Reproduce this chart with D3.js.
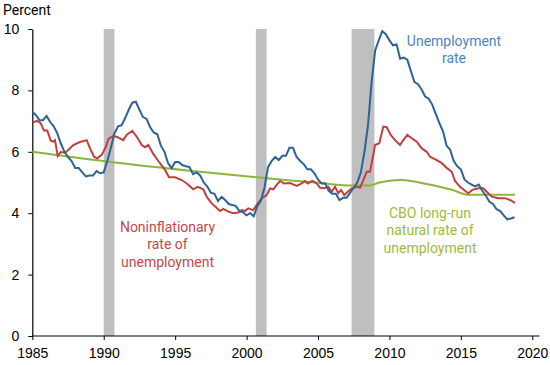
<!DOCTYPE html>
<html>
<head>
<meta charset="utf-8">
<script src="https://cdn.jsdelivr.net/npm/d3@7"></script>
<style>
  body { margin: 0; background: #fff; }
  svg { font-family: Roboto, "Noto Sans", sans-serif; }
  .axis text { font-size: 14px; fill: #000; }
  .axis path, .axis line { stroke: #000; }
</style>
</head>
<body>
<div id="chart"></div>
<script>
// quarterly unemployment rate, first point at 1985.0, step 0.25 year
var unempStart = 1985;
var unempValues = [
  7.30, 7.20, 7.03,
  7.03, 7.17, 6.97, 6.83,
  6.60, 6.27, 6.00, 5.83,
  5.70, 5.47, 5.47, 5.33,
  5.20, 5.23, 5.23, 5.37,
  5.30, 5.33, 5.70, 6.13,
  6.60, 6.83, 6.87, 7.10,
  7.37, 7.60, 7.63, 7.37,
  7.13, 7.07, 6.80, 6.63,
  6.57, 6.20, 6.00, 5.63,
  5.47, 5.67, 5.67, 5.57,
  5.53, 5.50, 5.27, 5.33,
  5.23, 5.00, 4.87, 4.67,
  4.63, 4.40, 4.53, 4.43,
  4.30, 4.27, 4.23, 4.07,
  4.03, 3.93, 4.00, 3.90,
  4.23, 4.40, 4.83, 5.50,
  5.70, 5.83, 5.73, 5.87,
  5.87, 6.13, 6.13, 5.83,
  5.70, 5.60, 5.43, 5.43,
  5.30, 5.10, 4.97, 4.97,
  4.73, 4.63, 4.63, 4.43,
  4.50, 4.50, 4.67, 4.83,
  5.00, 5.33, 6.00, 6.87,
  8.27, 9.30, 9.63, 9.93,
  9.83, 9.63, 9.47, 9.50,
  9.03, 9.07, 9.00, 8.63,
  8.27, 8.20, 8.03, 7.80,
  7.73, 7.53, 7.23, 6.93,
  6.67, 6.20, 6.07, 5.70,
  5.53, 5.43, 5.10, 5.00,
  4.93, 4.87, 4.93, 4.73,
  4.57, 4.37, 4.30, 4.13,
  4.07, 3.93, 3.80, 3.83,
  3.87
];

// noninflationary rate of unemployment
var nairuYears = [
  1985.03, 1985.31, 1985.59, 1985.82, 1986.05, 1986.29, 1986.47, 1986.59, 1986.78, 1986.99,
  1987.29, 1987.52, 1987.87, 1988.29, 1988.81, 1989.04, 1989.32, 1989.55, 1989.86, 1990.16,
  1990.32, 1990.63, 1990.91, 1991.37, 1991.61, 1992.0, 1992.31, 1992.66, 1992.89, 1993.12,
  1993.47, 1993.82, 1994.29, 1994.57, 1994.99, 1995.46, 1995.81, 1996.27, 1996.58, 1996.97,
  1997.21, 1997.56, 1997.91, 1998.14, 1998.37, 1998.72, 1999.07, 1999.42, 1999.66, 1999.89,
  2000.12, 2000.47, 2000.71, 2001.06, 2001.41, 2001.64, 2001.87, 2002.11, 2002.34, 2002.62,
  2003.04, 2003.51, 2003.86, 2004.09, 2004.28, 2004.60, 2004.91, 2005.14, 2005.44, 2005.72,
  2005.96, 2006.19, 2006.42, 2006.61, 2006.84, 2007.08, 2007.36, 2007.71, 2007.94, 2008.17,
  2008.41, 2008.64, 2008.87, 2008.99, 2009.29, 2009.57, 2009.81, 2010.09, 2010.39, 2010.74,
  2010.97, 2011.25, 2011.56, 2011.91, 2012.26, 2012.61, 2012.84, 2013.31, 2013.66, 2014.05,
  2014.36, 2014.59, 2014.94, 2015.29, 2015.52, 2015.80, 2016.22, 2016.57, 2016.81, 2017.16,
  2017.62, 2018.09, 2018.44, 2018.79
];
var nairuValues = [
  6.95, 7.01, 6.93, 6.69, 6.69, 6.36, 6.33, 6.38, 5.86, 5.99,
  5.97, 6.06, 6.22, 6.31, 6.38, 6.11, 5.84, 5.79, 5.90, 6.17,
  6.41, 6.51, 6.49, 6.38, 6.56, 6.68, 6.49, 6.22, 6.15, 6.22,
  5.93, 5.70, 5.41, 5.17, 5.17, 5.08, 4.97, 4.78, 4.86, 4.78,
  4.53, 4.32, 4.17, 4.07, 4.14, 4.05, 4.00, 4.02, 4.10, 4.07,
  4.16, 4.10, 4.27, 4.49, 4.59, 4.81, 4.78, 4.92, 5.05, 4.97,
  4.98, 4.89, 4.97, 5.05, 4.97, 5.05, 4.97, 4.83, 4.81, 4.86,
  4.70, 4.86, 4.65, 4.76, 4.59, 4.70, 4.81, 4.86, 4.83, 5.08,
  5.35, 5.35, 5.90, 6.22, 6.28, 6.82, 6.80, 6.55, 6.38, 6.22,
  6.38, 6.55, 6.44, 6.33, 6.11, 6.00, 5.84, 5.73, 5.63, 5.46,
  5.35, 5.05, 4.86, 4.73, 4.65, 4.76, 4.81, 4.81, 4.70, 4.54,
  4.49, 4.49, 4.43, 4.34
];

// CBO long-run natural rate
var cboYears = [1985, 1990.8, 1997.1, 2002.7, 2005.0, 2007.4, 2008.6, 2009.3, 2010.0, 2010.9,
  2011.7, 2012.6, 2013.5, 2014.4, 2015.5, 2018.79];
var cboValues = [6.00, 5.65, 5.33, 5.08, 4.99, 4.90, 4.90, 5.00, 5.06, 5.08,
  5.03, 4.95, 4.86, 4.76, 4.60, 4.60];

// recession shading (start, end) on the chart's year axis
var recessionStart = [1990.0, 2000.65, 2007.35];
var recessionEnd = [1990.75, 2001.4, 2008.95];

var xTicks = [1985, 1990, 1995, 2000, 2005, 2010, 2015, 2020];
var yTicks = [0, 2, 4, 6, 8, 10];

var width = 550, height = 365;

var svg = d3.select("#chart")
  .append("svg")
  .attr("width", width)
  .attr("height", height);

var x = d3.scaleLinear().domain([1985, 2020]).range([32.3, 532.3]);
var y = d3.scaleLinear().domain([0, 10]).range([336, 29]);

// recession bars
svg.append("g")
  .selectAll("rect")
  .data(recessionStart)
  .enter()
  .append("rect")
  .attr("x", function(d) { return x(d); })
  .attr("width", function(d, i) { return x(recessionEnd[i]) - x(d); })
  .attr("y", y(10))
  .attr("height", y(0) - y(10))
  .style("fill", "#bfbfbf");

// axes
var xAxis = d3.axisBottom(x).tickValues(xTicks).tickFormat(d3.format("d")).tickSize(4).tickSizeOuter(0);
var gx = svg.append("g")
  .attr("class", "axis")
  .attr("transform", "translate(0," + y(0) + ")")
  .call(xAxis);
gx.select(".domain").remove();
gx.append("line")
  .attr("x1", x(1985)).attr("x2", x(2020) + 7)
  .attr("stroke", "#000").attr("stroke-width", 1.2);
gx.selectAll("text").attr("dy", "1.05em");

var yAxis = d3.axisLeft(y).tickValues(yTicks).tickSize(4).tickSizeOuter(0).tickPadding(9);
var gy = svg.append("g")
  .attr("class", "axis")
  .attr("transform", "translate(" + x(1985) + ",0)")
  .call(yAxis);
gy.select(".domain").attr("stroke-width", 1.2);

svg.append("text")
  .attr("x", 3)
  .attr("y", 15)
  .style("font-size", "14px")
  .text("Percent");

// lines
var line = d3.line()
  .x(function(d) { return x(d[0]); })
  .y(function(d) { return y(d[1]); });

var cboData = cboYears.map(function(d, i) { return [d, cboValues[i]]; });
var nairuData = nairuYears.map(function(d, i) { return [d, nairuValues[i]]; });
var unempData = unempValues.map(function(v, i) { return [unempStart + i / 4, v]; });

svg.append("path")
  .datum(cboData)
  .attr("d", line.curve(d3.curveMonotoneX))
  .attr("fill", "none")
  .attr("stroke", "#8db53c")
  .attr("stroke-width", 2);

line.curve(d3.curveLinear);

svg.append("path")
  .datum(nairuData)
  .attr("d", line)
  .attr("fill", "none")
  .attr("stroke", "#c0403d")
  .attr("stroke-width", 2);

svg.append("path")
  .datum(unempData)
  .attr("d", line)
  .attr("fill", "none")
  .attr("stroke", "#2f6294")
  .attr("stroke-width", 2);

// labels
function label(lines, cx, baseline, color) {
  var t = svg.append("text")
    .attr("text-anchor", "middle")
    .style("font-size", "14px")
    .style("fill", color);
  lines.forEach(function(s, i) {
    t.append("tspan").attr("x", cx).attr("y", baseline + i * 17.5).text(s);
  });
}

label(["Unemployment", "rate"], 454, 45.5, "#4a86c4");
label(["Noninflationary", "rate of", "unemployment"], 167.5, 231.5, "#c4474a");
label(["CBO long-run", "natural rate of", "unemployment"], 430, 217.5, "#9dbb3a");
</script>
</body>
</html>
